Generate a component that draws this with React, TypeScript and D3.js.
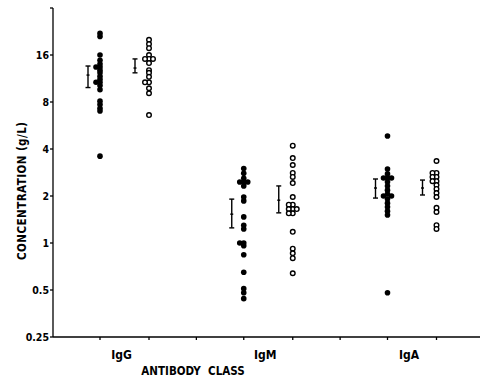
import React from "react";
import * as d3 from "d3";

const categories = ["IgG", "IgM", "IgA"];
const yTicks = [0.25, 0.5, 1, 2, 4, 8, 16];
const yTickLabels = ["0.25", "0.5", "1", "2", "4", "8", "16"];

// filled = group 1 (left column), open = group 2 (right column)
const filledValues: number[][] = [
  [22, 21, 16, 14.8, 14, 13.4, 13.4, 12.8, 12.3, 11.7, 11.2, 10.7, 10.7, 10.2, 9.6, 8.1, 7.7, 7.3, 7.0, 3.6],
  [3.0, 2.8, 2.6, 2.46, 2.46, 2.46, 2.32, 1.97, 1.86, 1.47, 1.3, 1.23, 1.0, 1.0, 0.96, 0.84, 0.65, 0.51, 0.48, 0.44],
  [4.85, 2.98, 2.77, 2.61, 2.61, 2.61, 2.46, 2.32, 2.18, 2.06, 2.0, 2.0, 1.91, 1.8, 1.7, 1.6, 1.51, 0.48],
];
const openValues: number[][] = [
  [20, 18.8, 17.7, 16, 15.1, 15.1, 15.1, 14.2, 12.8, 12.3, 11.6, 10.7, 10.7, 9.8, 9.1, 6.6],
  [4.2, 3.5, 3.16, 2.81, 2.65, 2.42, 1.97, 1.76, 1.76, 1.65, 1.65, 1.65, 1.55, 1.55, 1.18, 0.92, 0.86, 0.8, 0.64],
  [3.35, 2.81, 2.81, 2.65, 2.65, 2.49, 2.49, 2.35, 2.22, 2.09, 1.97, 1.68, 1.58, 1.3, 1.23],
];
// mean, low, high
const filledMean = [11.9, 1.53, 2.25];
const filledLow = [9.9, 1.25, 1.94];
const filledHigh = [13.6, 1.91, 2.57];
const openMean = [13.2, 1.88, 2.25];
const openLow = [12.3, 1.56, 2.03];
const openHigh = [15.1, 2.32, 2.53];

const W = 482, H = 378;
const AX = 53; // y-axis x
const y = d3.scaleLog().base(2).domain([0.25, 32]).range([337, 8]);
const xCat = d3.scalePoint<string>().domain(categories).range([124.5, 412]);
const colOff = 24.5;
const R = 2.8;

function dodge(values: number[], cx: number) {
  const placed: { x: number; y: number }[] = [];
  const cands = [0, -4, 4, -8, 8];
  values.forEach((v) => {
    const py = y(v);
    for (const c of cands) {
      const px = cx + c;
      if (!placed.some((p) => Math.abs(p.y - py) < 2.5 && Math.abs(p.x - px) < 3.5)) {
        placed.push({ x: px, y: py });
        break;
      }
    }
  });
  return placed;
}

const font = "'DejaVu Sans Condensed', 'DejaVu Sans', sans-serif";

function ErrBar({ x, m, lo, hi }: { x: number; m: number; lo: number; hi: number }) {
  return (
    <g stroke="#000" strokeWidth={1.4}>
      <line x1={x} x2={x} y1={y(lo)} y2={y(hi)} />
      <line x1={x - 2.5} x2={x + 2.5} y1={y(lo)} y2={y(lo)} />
      <line x1={x - 2.5} x2={x + 2.5} y1={y(hi)} y2={y(hi)} />
      <line x1={x - 1.5} x2={x + 1.5} y1={y(m)} y2={y(m)} />
    </g>
  );
}

export default function App() {
  const colXs: number[] = [];
  categories.forEach((c) => {
    colXs.push((xCat(c) as number) - colOff, (xCat(c) as number) + colOff);
  });
  const tickXs: number[] = [];
  colXs.forEach((cx, i) => {
    tickXs.push(cx);
    if (i % 2 === 1 && i < colXs.length - 1) tickXs.push((cx + colXs[i + 1]) / 2);
  });
  return (
    <svg width={W} height={H} style={{ position: "absolute", left: 0, top: 0, background: "#fff" }}>
      <rect width={W} height={H} fill="#fff" />
      {/* axes */}
      <g stroke="#000" strokeWidth={1.3}>
        <line x1={AX} x2={AX} y1={y(32)} y2={y(0.25)} />
        <line x1={AX - 3} x2={AX} y1={y(32)} y2={y(32)} />
        <line x1={AX} x2={480} y1={y(0.25)} y2={y(0.25)} />
        {yTicks.map((t) => (
          <line key={t} x1={AX - 3} x2={AX} y1={y(t)} y2={y(t)} />
        ))}
        {tickXs.map((tx, i) => (
          <line key={i} x1={tx} x2={tx} y1={y(0.25)} y2={y(0.25) + 3} />
        ))}
      </g>
      <g fontFamily={font} fontWeight="bold" fontSize={10.5} fill="#000">
        {yTicks.map((t, i) => (
          <text key={t} x={AX - 4} y={y(t)} dy="0.36em" textAnchor="end">
            {yTickLabels[i]}
          </text>
        ))}
        {categories.map((c) => (
          <text key={c} x={(xCat(c) as number) - 3} y={359} textAnchor="middle" fontSize={12}>
            {c}
          </text>
        ))}
        <text x={193} y={375} textAnchor="middle" fontSize={11.5} style={{ whiteSpace: "pre" }}>
          {"ANTIBODY  CLASS"}
        </text>
        <text
          transform="translate(26,191) rotate(-90)"
          textAnchor="middle"
          fontSize={11.5}
          textLength={138}
          lengthAdjust="spacing"
        >
          {"CONCENTRATION (g/L)"}
        </text>
      </g>
      {/* error bars */}
      {categories.map((c, i) => (
        <g key={c}>
          <ErrBar x={(xCat(c) as number) - colOff - 12} m={filledMean[i]} lo={filledLow[i]} hi={filledHigh[i]} />
          <ErrBar x={(xCat(c) as number) + colOff - 14} m={openMean[i]} lo={openLow[i]} hi={openHigh[i]} />
        </g>
      ))}
      {/* points */}
      {categories.map((c, i) => (
        <g key={c}>
          {dodge(filledValues[i], (xCat(c) as number) - colOff).map((p, j) => (
            <circle key={j} cx={p.x} cy={p.y} r={R} fill="#000" />
          ))}
          {dodge(openValues[i], (xCat(c) as number) + colOff).map((p, j) => (
            <circle key={j} cx={p.x} cy={p.y} r={R - 0.5} fill="#fff" stroke="#000" strokeWidth={1.4} />
          ))}
        </g>
      ))}
    </svg>
  );
}
